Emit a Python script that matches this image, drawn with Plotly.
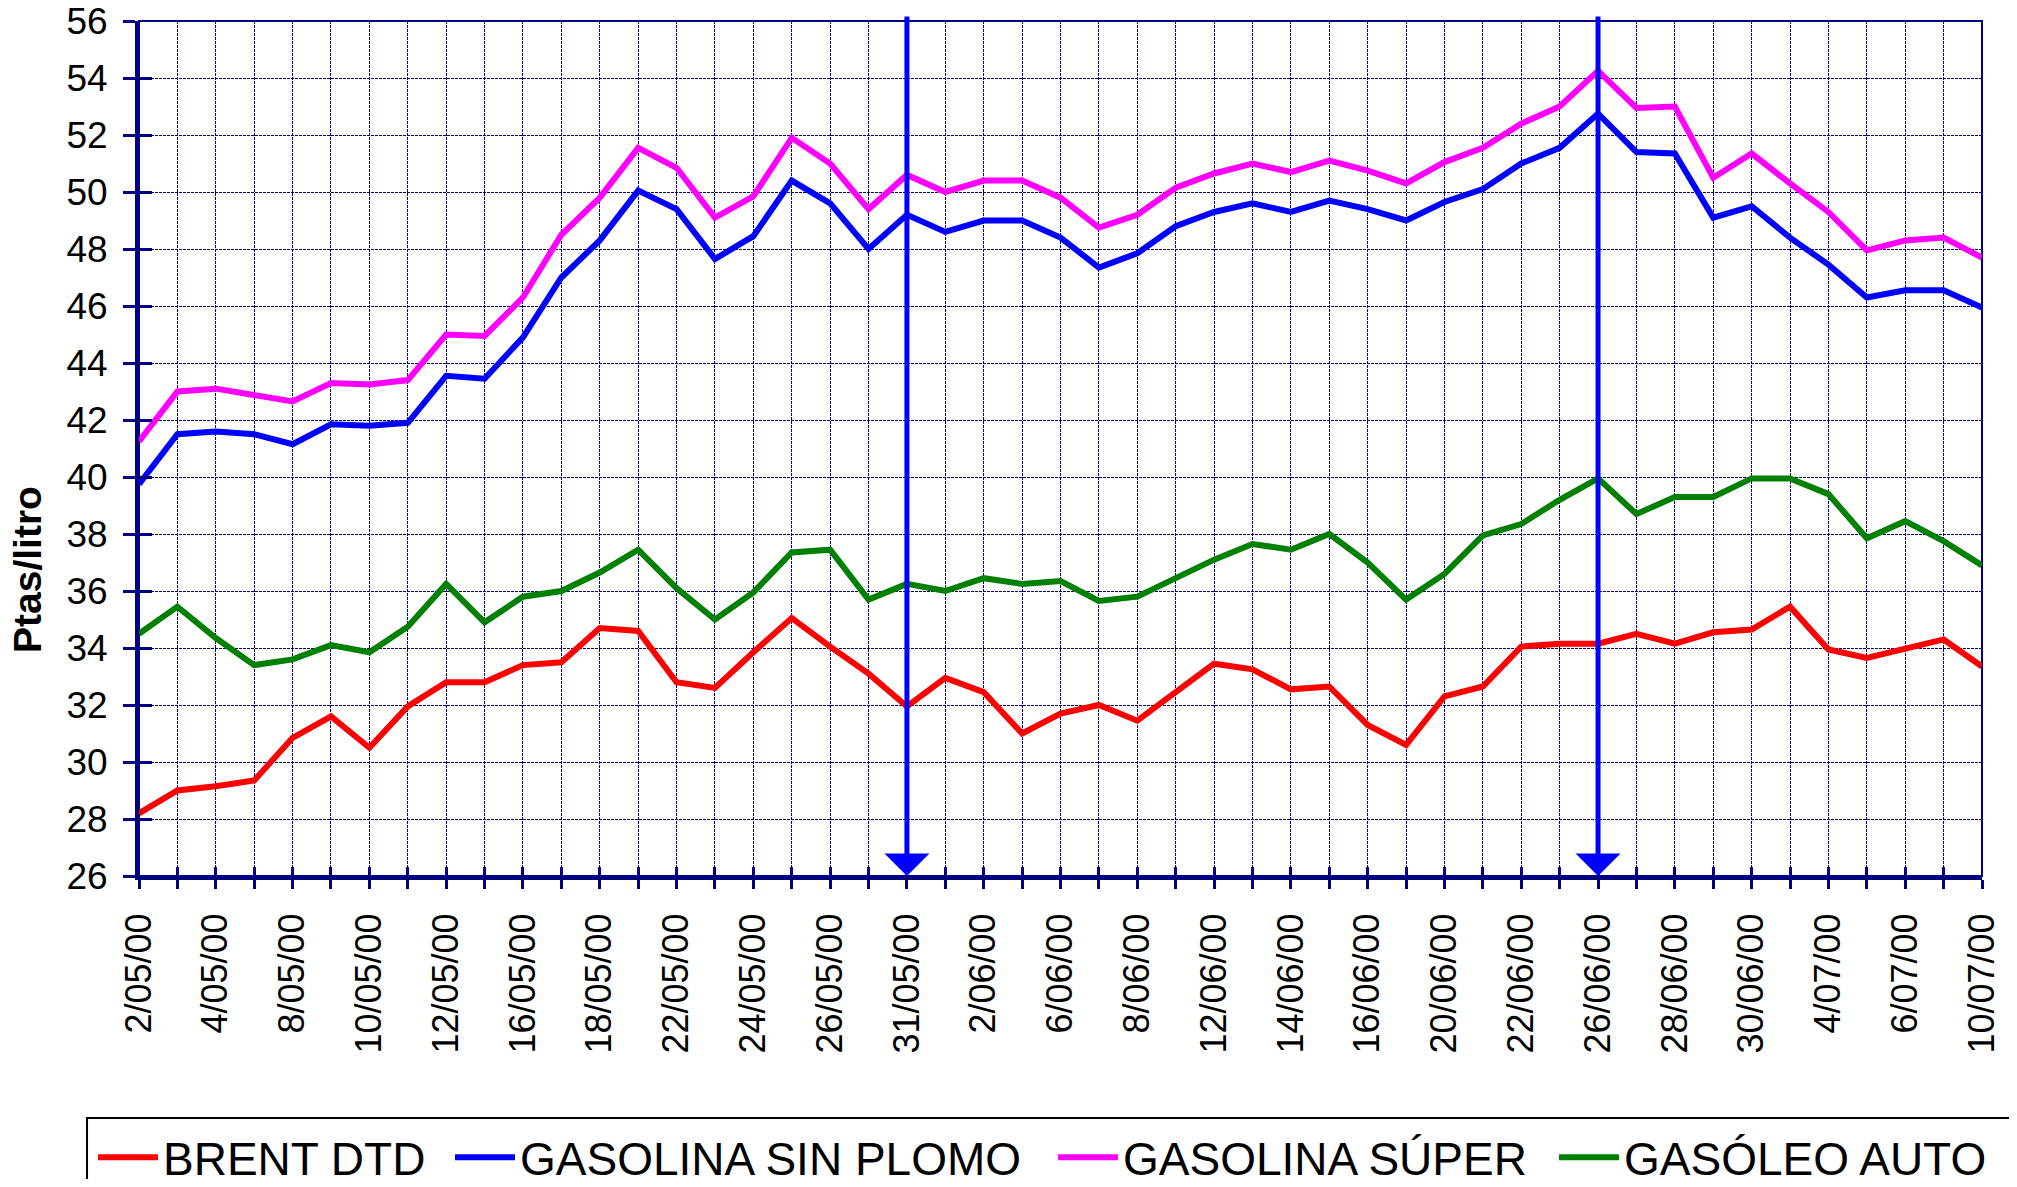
import plotly.graph_objects as go

# Cotizaciones diarias (Ptas/litro)
fechas = ['2/05/00', '3/05/00', '4/05/00', '5/05/00', '8/05/00', '9/05/00', '10/05/00',
          '11/05/00', '12/05/00', '15/05/00', '16/05/00', '17/05/00', '18/05/00', '19/05/00',
          '22/05/00', '23/05/00', '24/05/00', '25/05/00', '26/05/00', '29/05/00', '31/05/00',
          '1/06/00', '2/06/00', '5/06/00', '6/06/00', '7/06/00', '8/06/00', '9/06/00',
          '12/06/00', '13/06/00', '14/06/00', '15/06/00', '16/06/00', '19/06/00', '20/06/00',
          '21/06/00', '22/06/00', '23/06/00', '26/06/00', '27/06/00', '28/06/00', '29/06/00',
          '30/06/00', '3/07/00', '4/07/00', '5/07/00', '6/07/00', '7/07/00', '10/07/00']

brent = [28.2, 29.0, 29.15, 29.35, 30.85, 31.6, 30.5, 31.95, 32.8, 32.8, 33.4, 33.5, 34.7,
         34.6, 32.8, 32.6, 33.85, 35.05, 34.05, 33.1, 31.95, 32.95, 32.45, 31.0, 31.7, 32.0,
         31.45, 32.45, 33.45, 33.25, 32.55, 32.65, 31.3, 30.6, 32.3, 32.65, 34.05, 34.15,
         34.15, 34.5, 34.15, 34.55, 34.65, 35.45, 33.95, 33.65, 33.95, 34.3, 33.35]

sin_plomo = [39.75, 41.5, 41.6, 41.5, 41.15, 41.85, 41.8, 41.9, 43.55, 43.45, 44.9, 47.0,
             48.3, 50.05, 49.4, 47.65, 48.45, 50.4, 49.6, 48.0, 49.2, 48.6, 49.0, 49.0, 48.4,
             47.35, 47.85, 48.8, 49.3, 49.6, 49.3, 49.7, 49.4, 49.0, 49.65, 50.1, 51.0, 51.55,
             52.75, 51.4, 51.35, 49.1, 49.5, 48.4, 47.45, 46.3, 46.55, 46.55, 45.95]

super_ = [41.25, 43.0, 43.1, 42.9, 42.65, 43.3, 43.25, 43.4, 45.0, 44.95, 46.3, 48.5, 49.8,
          51.55, 50.85, 49.1, 49.85, 51.9, 51.0, 49.4, 50.6, 50.0, 50.4, 50.4, 49.8, 48.75,
          49.2, 50.15, 50.65, 51.0, 50.7, 51.1, 50.75, 50.3, 51.05, 51.55, 52.4, 53.0, 54.25,
          52.95, 53.0, 50.5, 51.35, 50.3, 49.3, 47.95, 48.3, 48.4, 47.7]

gasoleo = [34.5, 35.45, 34.35, 33.4, 33.6, 34.1, 33.85, 34.75, 36.25, 34.9, 35.8, 36.0,
           36.65, 37.45, 36.1, 35.0, 35.95, 37.35, 37.45, 35.7, 36.25, 36.0, 36.45, 36.25,
           36.35, 35.65, 35.8, 36.45, 37.1, 37.65, 37.45, 38.0, 37.0, 35.7, 36.6, 37.95, 38.35,
           39.2, 39.95, 38.7, 39.3, 39.3, 39.95, 39.95, 39.4, 37.85, 38.45, 37.75, 36.9]

series = [('BRENT DTD', brent, '#FF0000'),
          ('GASOLINA SIN PLOMO', sin_plomo, '#0000FF'),
          ('GASOLINA SÚPER', super_, '#FF00FF'),
          ('GASÓLEO AUTO', gasoleo, '#008000')]

# fechas marcadas con flecha
marcas = ['31/05/00', '26/06/00']

navy = '#000080'
fuente = 'Arial, Liberation Sans, sans-serif'

# la página html añade 8px de margen al cuerpo: la figura se reduce en proporción
W, H = 2001, 1171
pos_leyenda = [85, 442, 1045, 1546]   # borde izquierdo de cada entrada (px)

fig = go.Figure()
for k, (nombre, valores, color) in enumerate(series):
    ley = 'legend' if k == 0 else 'legend%d' % (k + 1)
    fig.add_trace(go.Scatter(x=fechas, y=valores, name=nombre, mode='lines',
                             line=dict(color=color, width=6), legend=ley, showlegend=True))

# trazo vacío para los ejes superpuestos (marcas de tick hacia dentro)
fig.add_trace(go.Scatter(x=[], y=[], xaxis='x2', yaxis='y2', showlegend=False))

for f in marcas:
    fig.add_annotation(x=f, y=26, ax=f, ay=56.21, axref='x', ayref='y', xref='x', yref='y',
                       text='', showarrow=True, arrowhead=1, arrowsize=1.5,
                       arrowwidth=5, arrowcolor='#0000FF')

fig.add_annotation(text='<b>Ptas/litro</b>', textangle=-90, xref='paper', yref='paper',
                   x=-0.0602, y=0.358, xanchor='center', yanchor='middle', showarrow=False,
                   font=dict(family=fuente, size=39, color='black'))

etiquetas = [f if i % 2 == 0 else '' for i, f in enumerate(fechas)]

leyendas = {}
for k, px in enumerate(pos_leyenda):
    clave = 'legend' if k == 0 else 'legend%d' % (k + 1)
    leyendas[clave] = dict(orientation='h', xref='container', yref='container',
                           x=px / W, y=0.0185, xanchor='left', yanchor='middle',
                           font=dict(family=fuente, size=46), borderwidth=0,
                           bgcolor='rgba(0,0,0,0)', itemwidth=60, visible=True)

fig.update_layout(
    width=W, height=H,
    showlegend=True,
    margin=dict(l=131, r=27, t=13, b=303, autoexpand=False),
    paper_bgcolor='white', plot_bgcolor='white',
    font=dict(family=fuente, color='black'),
    xaxis=dict(type='category', range=[0, len(fechas) - 1], automargin=False,
               tickvals=fechas, ticktext=etiquetas, tickangle=-90,
               tickfont=dict(size=36), ticks='outside', ticklen=9, tickwidth=3,
               tickcolor=navy, ticklabelstandoff=10, ticklabeloverflow='allow',
               showline=True, linecolor=navy, linewidth=4,
               showgrid=True, gridcolor=navy, gridwidth=1, griddash='3px,1px',
               zeroline=False),
    yaxis=dict(range=[26, 56], dtick=2, automargin=False,
               tickfont=dict(size=37), ticklabelstandoff=8, ticklabeloverflow='allow',
               ticks='outside', ticklen=12, tickwidth=3, tickcolor=navy,
               showline=True, linecolor=navy, linewidth=4,
               showgrid=True, gridcolor=navy, gridwidth=1, griddash='3px,1px',
               zeroline=False),
    xaxis2=dict(overlaying='x', anchor='y', side='bottom', range=[0, len(fechas) - 1],
                automargin=False,
                tickvals=list(range(len(fechas))), ticks='inside', ticklen=9, tickwidth=3,
                tickcolor=navy, showticklabels=False, showgrid=False, zeroline=False),
    yaxis2=dict(overlaying='y', anchor='x', side='left', range=[26, 56], dtick=2,
                automargin=False,
                ticks='inside', ticklen=13, tickwidth=3, tickcolor=navy,
                showticklabels=False, showgrid=False, zeroline=False),
    **leyendas,
)

# marco de la leyenda
fig.add_shape(type='rect', xref='paper', yref='paper', x0=-0.0282, x1=1.03,
              y0=-0.4, y1=-0.283, line=dict(color='black', width=2))

fig.add_shape(type='rect', xref='x domain', yref='y domain', x0=0, x1=1, y0=0, y1=1,
              line=dict(color=navy, width=2), layer='below')

fig.write_html('out.html')
